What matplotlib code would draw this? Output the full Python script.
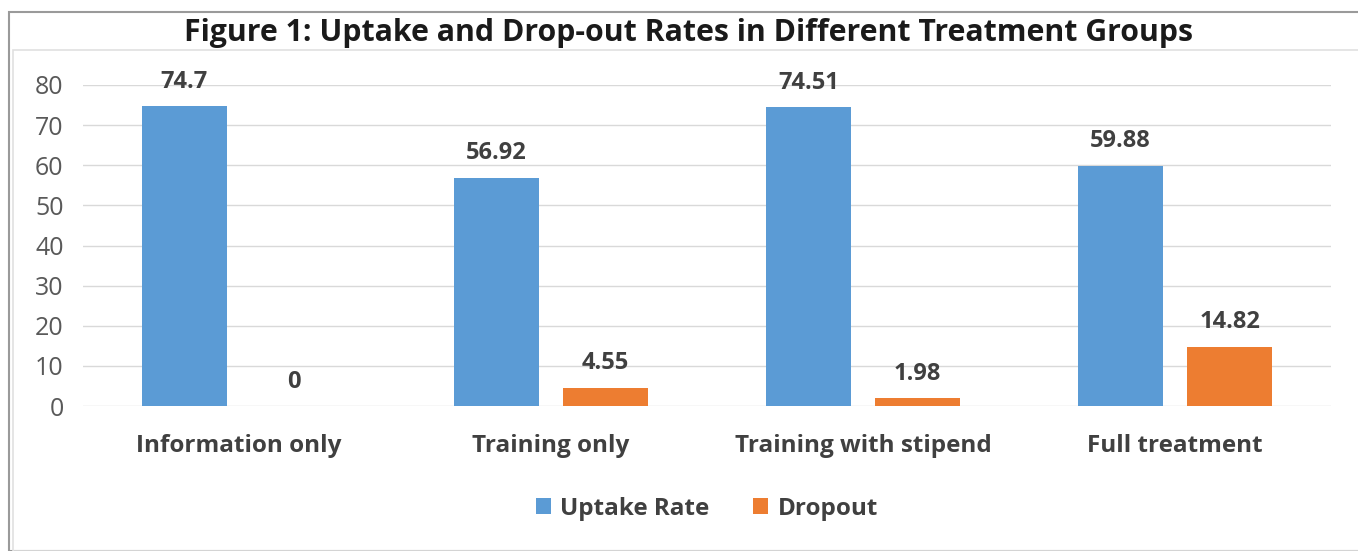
import numpy as np
import matplotlib.pyplot as plt
from matplotlib.patches import Rectangle

# dados do gráfico
grupos = ["Information only", "Training only", "Training with stipend", "Full treatment"]
uptake = [74.7, 56.92, 74.51, 59.88]
dropout = [0, 4.55, 1.98, 14.82]
rotulos_uptake = ["74.7", "56.92", "74.51", "59.88"]
rotulos_dropout = ["0", "4.55", "1.98", "14.82"]

azul = "#5B9BD5"
laranja = "#ED7D31"
cinza_txt = "#404040"

plt.rcParams["font.family"] = ["Open Sans", "DejaVu Sans"]

fig = plt.figure(figsize=(13.58, 5.51), dpi=100)
ax = fig.add_axes([83 / 1358, 1 - 406 / 551, 1248 / 1358, 321 / 551])

# bordas externas (moldura do gráfico)
fig.patches.append(Rectangle((9 / 1358, 0), 1.1, 1 - 12 / 551, transform=fig.transFigure,
                             fill=False, edgecolor="#9a9a9a", lw=1.5))
fig.patches.append(Rectangle((13 / 1358, 0), 1.1, 1 - 50 / 551, transform=fig.transFigure,
                             fill=False, edgecolor="#e0e0e0", lw=1.2))

x = np.arange(len(grupos))
largura = 0.272
desloc = 0.175
b1 = ax.bar(x - desloc, uptake, largura, color=azul, label="Uptake Rate", zorder=3)
b2 = ax.bar(x + desloc, dropout, largura, color=laranja, label="Dropout", zorder=3)

for barras, rots in [(b1, rotulos_uptake), (b2, rotulos_dropout)]:
    for b, r in zip(barras, rots):
        ax.annotate(r, (b.get_x() + b.get_width() / 2, b.get_height()),
                    xytext=(0, 9), textcoords="offset points", ha="center", va="bottom",
                    fontsize=17, fontweight="bold", color=cinza_txt, annotation_clip=False)

ax.set_xlim(-0.5, 3.5)
ax.set_ylim(0, 80)
ax.set_yticks(range(0, 81, 10))
ax.set_xticks(x)
ax.set_xticklabels(grupos, fontsize=17.5, fontweight="bold", color=cinza_txt)
ax.tick_params(axis="y", labelsize=18, labelcolor="#595959", length=0, pad=14)
ax.tick_params(axis="x", length=0, pad=20)
ax.grid(axis="y", color="#d9d9d9", lw=1, zorder=0)
for s in ax.spines.values():
    s.set_visible(False)

fig.text(688 / 1358, 1 - 33 / 551, "Figure 1: Uptake and Drop-out Rates in Different Treatment Groups",
         ha="center", va="center", fontsize=21.8, fontweight="bold", color="#1a1a1a")

ax.legend(loc="center", bbox_to_anchor=(0.5, -0.32), ncol=2, frameon=False,
          handlelength=0.6, handleheight=0.6, handletextpad=0.4,
          columnspacing=1.8, labelcolor=cinza_txt, prop={"weight": "bold", "size": 17.5})

fig.savefig("out.png", dpi=100)
